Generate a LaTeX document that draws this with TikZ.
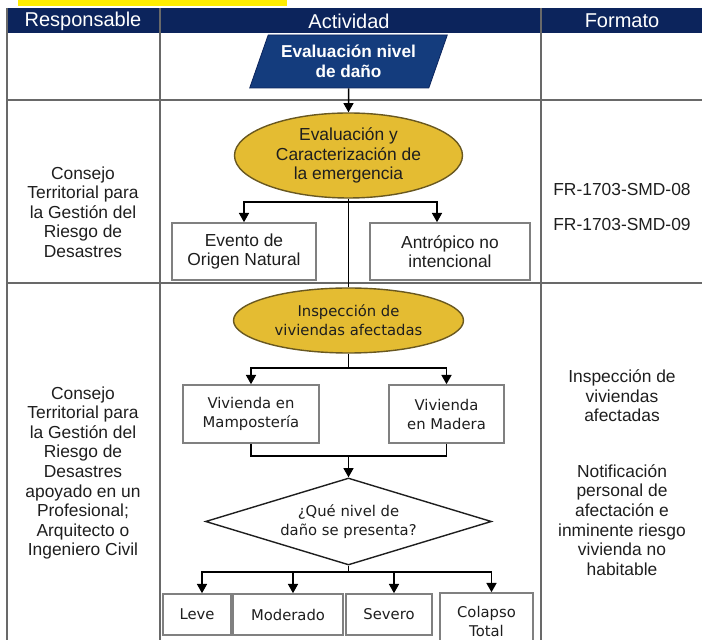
\documentclass[tikz,border=0pt]{standalone}
\usepackage{fontspec}
\setmainfont{Liberation Sans}
\newfontfamily\verdana{DejaVu Sans}
\usepackage{tikz}
\usetikzlibrary{shapes,arrows.meta}

\definecolor{navy}{RGB}{12,36,92}
\definecolor{navyio}{RGB}{20,60,125}
\definecolor{gold}{RGB}{228,188,50}
\definecolor{goldline}{RGB}{105,88,32}
\definecolor{gridline}{RGB}{105,105,105}
\definecolor{ink}{RGB}{30,30,30}

\begin{document}
\begin{tikzpicture}[x=0.5pt, y=-0.5pt, align=center, >={Triangle[length=4.6pt,width=5pt]}]
    \tikzset{
        hdr/.style      =   { text=white
                            , font=\fontsize{10}{12}\selectfont
        }
        , txt/.style    =   { text=ink
                            , font=\fontsize{8.7}{9.8}\selectfont
        }
        , vtxt/.style   =   { text=ink
                            , font=\verdana\fontsize{7.4}{9.5}\selectfont
        }
        , datain/.style =   { trapezium
                            , trapezium left angle=66.5
                            , trapezium right angle=113.5
                            , trapezium stretches=true
                            , fill=navyio
                            , draw=navy
                            , text=white
                            , inner sep=1pt
                            , font=\bfseries\fontsize{8.6}{10}\selectfont
        }
        , elip/.style   =   { ellipse
                            , fill=gold
                            , draw=goldline
                            , line width=0.7pt
                            , inner sep=0pt
        }
        , box/.style    =   { rectangle
                            , draw=gray
                            , fill=white
                            , line width=0.8pt
                            , inner sep=1pt
        }
        , decision/.style = { diamond
                            , draw=ink
                            , fill=white
                            , line width=0.7pt
                            , inner sep=0pt
                            , aspect=3.3
        }
        , line/.style   =   { line width=0.75pt
                            , draw=black
        }
        , arrow/.style  =   { line width=0.75pt
                            , draw=black
                            , ->
        }
        , grid/.style   =   { line width=0.65pt
                            , draw=gridline
        }
    }
    \clip (0,0) rectangle (702,640);

    % table
    \fill[yellow!95!orange] (18,0) rectangle (287,6);
    \fill[navy] (7,8) rectangle (702,33);
    \draw[grid] (7,100) -- (702,100);
    \draw[grid] (7,283) -- (702,283);
    \foreach \x in {7,160,541}
        \draw[grid] (\x,8) -- (\x,640);

    \node(hresp)[hdr] at (83,21)  {Responsable};
    \node(hacti)[hdr] at (349,21) {Actividad};
    \node(hform)[hdr] at (622,21) {Formato};

    % responsables
    \node(resp1)[txt] at (83,212) {Consejo\\Territorial para\\la Gestión del\\Riesgo de\\Desastres};
    \node(resp2)[txt] at (83,473) {Consejo\\Territorial para\\la Gestión del\\Riesgo de\\Desastres\\apoyado en un\\Profesional;\\Arquitecto o\\Ingeniero Civil};

    % formatos
    \node(form1)[txt] at (622,190) {FR-1703-SMD-08};
    \node(form2)[txt] at (622,225) {FR-1703-SMD-09};
    \node(form3)[txt] at (622,396) {Inspección de\\viviendas\\afectadas};
    \node(form4)[txt] at (622,520) {Notificación\\personal de\\afectación e\\inminente riesgo\\vivienda no\\habitable};

    % actividades
    \node(eval)[datain, minimum width=99pt, minimum height=26.5pt] at (348.5,61.5) {Evaluación nivel\\de daño};
    \node(emerg)[elip, txt, minimum width=114pt, minimum height=42.5pt] at (348.5,155.5) {Evaluación y\\Caracterización de\\la emergencia};
    \node(natural)[box, txt, minimum width=72pt, minimum height=28.5pt] at (244,251.5) {Evento de\\Origen Natural};
    \node(antro)[box, txt, minimum width=80pt, minimum height=28.5pt] at (450,251.5) {Antrópico no\\intencional};
    \node(inspec)[elip, vtxt, minimum width=115pt, minimum height=32.5pt] at (348.5,320.5) {Inspección de\\viviendas afectadas};
    \node(mamp)[box, vtxt, minimum width=68pt, minimum height=29pt] at (251,414) {Vivienda en\\Mampostería};
    \node(madera)[box, vtxt, minimum width=57.5pt, minimum height=29pt] at (446.5,414) {Vivienda\\en Madera};
    \node(dia)[decision, vtxt, minimum width=143pt, minimum height=43.5pt] at (348.5,521.5) {¿Qué nivel de\\daño se presenta?};
    \node(leve)[box, vtxt, minimum width=34pt, minimum height=20.5pt] at (197,614.5) {Leve};
    \node(moder)[box, vtxt, minimum width=55pt, minimum height=20.5pt] at (288,614.5) {Moderado};
    \node(severo)[box, vtxt, minimum width=43pt, minimum height=20.5pt] at (389,614.5) {Severo};
    \node(colapso)[box, vtxt, minimum width=46.5pt, minimum height=28.5pt] at (486.5,621.5) {Colapso\\Total};

    \coordinate(b1) at (348.5,202);
    \coordinate(b2) at (348.5,368);
    \coordinate(j2) at (348.5,456);
    \coordinate(b3) at (348.5,572);

    % conectores
    \draw[arrow] (eval) -- (emerg);
    \draw[line]  (emerg) -- (inspec);
    \draw[arrow] (b1) -| (natural);
    \draw[arrow] (b1) -| ([xshift=-6.5pt]antro.north);
    \draw[line]  (inspec) -- (b2);
    \draw[arrow] (b2) -| (mamp);
    \draw[arrow] (b2) -| (madera);
    \draw[line]  (mamp) |- (j2);
    \draw[line]  (madera) |- (j2);
    \draw[arrow] (j2) -- (dia);
    \draw[line]  (dia) -- (b3);
    \foreach \n in {leve,moder,severo,colapso}
        \draw[arrow] (b3) -| ([xshift=2.5pt]\n.north);
\end{tikzpicture}
\end{document}
